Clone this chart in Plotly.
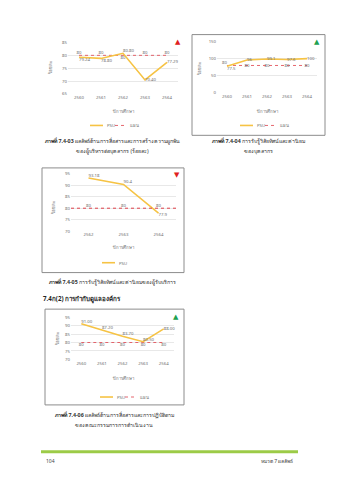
import plotly.graph_objects as go

# ---------------- data ----------------
years_a = ["2560", "2561", "2562", "2563", "2564"]
c1_psu = [79.24, 78.80, 80.80, 70.40, 77.29]
c1_target = [80, 80, 80, 80, 80]

c2_psu = [77.5, 96, 99.1, 97.6, 100]
c2_target = [80, 80, 80, 80, 80]

years_c = ["2562", "2563", "2564"]
c3_psu = [93.18, 90.4, 77.9]
c3_target = [80, 80, 80]

c4_psu = [91.00, 87.20, 83.70, 80.50, 88.00]
c4_target = [80, 80, 80, 80, 80]

c1_ticks = [65, 70, 75, 80, 85]
c2_ticks = [0, 50, 100, 150]
c3_ticks = [70, 75, 80, 85, 90, 95]
c4_ticks = [70, 75, 80, 85, 90, 95]

legend_psu = "PSU"
legend_target = "แผน"
y_title = "ร้อยละ"
x_title = "ปีการศึกษา"

W, H = 339, 480
FONT = "Noto Sans, DejaVu Sans, sans-serif"
TXT = "#6E6E6E"
YEL = "#F6C344"
RED = "#E0404A"
GRID = "#E8E8E8"
LBL = 4.3


def px(x):
    return x / W


def py(y):
    return 1 - y / H


fig = go.Figure()

charts = [
    dict(n="", cats=years_a, psu=c1_psu, tgt=c1_target, ticks=c1_ticks,
         xd=(68, 178), yd=(40, 92), yr=(65, 85), fmt="{:.2f}",
         pos=["bottom right", "bottom right", "top right", "middle right", "middle right"],
         tpos=["top center", "top center", "bottom center", "top center", "top center"], tline=False),
    dict(n="2", cats=years_a, psu=c2_psu, tgt=c2_target, ticks=c2_ticks,
         xd=(217, 317), yd=(39, 91), yr=(0, 150), fmt="{:g}",
         pos=["bottom right", "middle right", "middle right", "middle right", "middle right"],
         tpos=["top left", "middle center", "middle center", "middle center", "middle center"], tline=False),
    dict(n="3", cats=years_c, psu=c3_psu, tgt=c3_target, ticks=c3_ticks,
         xd=(71, 176), yd=(173, 231), yr=(70, 95), fmt="{:g}",
         pos=["top right", "top right", "bottom right"], tpos="top center", tline=True),
    dict(n="4", cats=years_a, psu=c4_psu, tgt=c4_target, ticks=c4_ticks,
         xd=(71, 174), yd=(318, 361), yr=(70, 95), fmt="{:.2f}",
         pos=["top right", "top right", "top right", "top right", "middle right"],
         tpos="bottom center", tline=False),
]

for c in charts:
    xa = "x" + c["n"]
    ya = "y" + c["n"]
    psu_text = [c["fmt"].format(v) for v in c["psu"]]
    tgt_text = ["{:g}".format(v) for v in c["tgt"]]
    if c["tline"]:
        fig.add_trace(go.Scatter(x=c["cats"], y=c["tgt"], mode="text", text=tgt_text,
                                 textposition=c["tpos"], textfont=dict(size=LBL, color=TXT, family=FONT),
                                 xaxis=xa, yaxis=ya, showlegend=False, cliponaxis=False))
        fig.add_shape(type="line", xref=xa + " domain", x0=0, x1=1, yref=ya,
                      y0=c["tgt"][0], y1=c["tgt"][-1], line=dict(color=RED, width=1, dash="dot"))
    else:
        fig.add_trace(go.Scatter(x=c["cats"], y=c["tgt"], mode="lines+text", text=tgt_text,
                                 textposition=c["tpos"], textfont=dict(size=LBL, color=TXT, family=FONT),
                                 line=dict(color=RED, width=0.8, dash="dot"),
                                 xaxis=xa, yaxis=ya, showlegend=False, cliponaxis=False))
    fig.add_trace(go.Scatter(x=c["cats"], y=c["psu"], mode="lines+text", text=psu_text,
                             textposition=c["pos"], textfont=dict(size=LBL, color=TXT, family=FONT),
                             line=dict(color=YEL, width=1.6),
                             xaxis=xa, yaxis=ya, showlegend=False, cliponaxis=False))

    xkey = "xaxis" + c["n"]
    ykey = "yaxis" + c["n"]
    fig.update_layout(**{
        xkey: dict(domain=[px(c["xd"][0]), px(c["xd"][1])], anchor=ya, type="category",
                   range=[-0.5, len(c["cats"]) - 0.5], showgrid=False, zeroline=False,
                   showline=False, ticks="", tickfont=dict(size=LBL, color=TXT, family=FONT),
                   fixedrange=True),
        ykey: dict(domain=[py(c["yd"][1]), py(c["yd"][0])], anchor=xa, range=list(c["yr"]),
                   tickvals=c["ticks"], showgrid=True, gridcolor=GRID, gridwidth=0.8,
                   zeroline=False, showline=False, ticks="",
                   tickfont=dict(size=LBL, color=TXT, family=FONT), fixedrange=True),
    })

shapes = []
annotations = []


def rect(x0, y0, x1, y1, color="#8C8C8C", width=1, fill=None):
    shapes.append(dict(type="rect", xref="paper", yref="paper", x0=px(x0), x1=px(x1),
                       y0=py(y1), y1=py(y0), line=dict(color=color, width=width),
                       fillcolor=fill, layer="below"))


def text(x, y, s, size=LBL, color=TXT, xanchor="center", angle=0, bold=False):
    annotations.append(dict(x=px(x), y=py(y), xref="paper", yref="paper", text=("<b>%s</b>" % s) if bold else s,
                            showarrow=False, xanchor=xanchor, yanchor="middle", textangle=angle,
                            font=dict(size=size, color=color, family=FONT)))


def legend(x, y, with_target=True):
    shapes.append(dict(type="line", xref="paper", yref="paper", x0=px(x), x1=px(x + 13),
                       y0=py(y), y1=py(y), line=dict(color=YEL, width=1.6)))
    text(x + 15, y, legend_psu, xanchor="left")
    if with_target:
        shapes.append(dict(type="line", xref="paper", yref="paper", x0=px(x + 25), x1=px(x + 36),
                           y0=py(y), y1=py(y), line=dict(color=RED, width=0.8, dash="dot")))
        text(x + 38, y, legend_target, xanchor="left")


# chart frames
rect(42, 32, 184, 134)
rect(192, 32, 325, 134)
rect(42, 167, 184, 273)
rect(45, 310, 184, 407)

# axis titles
text(50, 66, y_title, angle=-90)
text(123, 109, x_title)
text(199, 66, y_title, angle=-90)
text(267, 109, x_title)
text(53, 208, y_title, angle=-90)
text(123, 247, x_title)
text(57, 340, y_title, angle=-90)
text(123, 380, x_title)

# legends
legend(90, 124)
legend(240, 124)
legend(102, 263, with_target=False)
legend(100, 399)

# status triangles
text(178, 39, "▲", size=7, color="#E02020")
text(317, 39, "▲", size=7, color="#20A050")
text(177, 174, "▼", size=7, color="#E02020")
text(176, 317, "▲", size=7, color="#20A050")

# captions
cap = 5.3
text(112, 140, "<b>ภาพที่ 7.4-03</b> ผลลัพธ์ด้านการสื่อสารและการสร้างความผูกพัน", size=cap, color="#333")
text(112, 150, "ของผู้บริหารต่อบุคลากร (ร้อยละ)", size=cap, color="#333")
text(258, 140, "<b>ภาพที่ 7.4-04</b> การรับรู้วิสัยทัศน์และค่านิยม", size=cap, color="#333")
text(258, 150, "ของบุคลากร", size=cap, color="#333")
text(112, 283, "<b>ภาพที่ 7.4-05</b> การรับรู้วิสัยทัศน์และค่านิยมของผู้รับบริการ", size=cap, color="#333")
text(41, 300, "7.4ก(2) การกำกับดูแลองค์กร", size=6.2, color="#222", xanchor="left", bold=True)
text(114, 417, "<b>ภาพที่ 7.4-06</b> ผลลัพธ์ด้านการสื่อสารและการปฏิบัติตาม", size=cap, color="#333")
text(114, 427, "ของคณะกรรมการการดำเนินงาน", size=cap, color="#333")

# footer
shapes.append(dict(type="rect", xref="paper", yref="paper", x0=px(41), x1=px(298), y0=py(456), y1=py(453),
                   line=dict(width=0), fillcolor="#9CCB47"))
text(44, 464, "104", size=5, color="#444", xanchor="left")
text(295, 464, "หมวด 7 ผลลัพธ์", size=5, color="#444", xanchor="right")

fig.update_layout(
    width=W, height=H, margin=dict(l=0, r=0, t=0, b=0),
    paper_bgcolor="white", plot_bgcolor="white",
    showlegend=False, shapes=shapes, annotations=annotations,
    font=dict(family=FONT, size=LBL, color=TXT),
)

fig.write_html("out.html", config={"displayModeBar": False})
